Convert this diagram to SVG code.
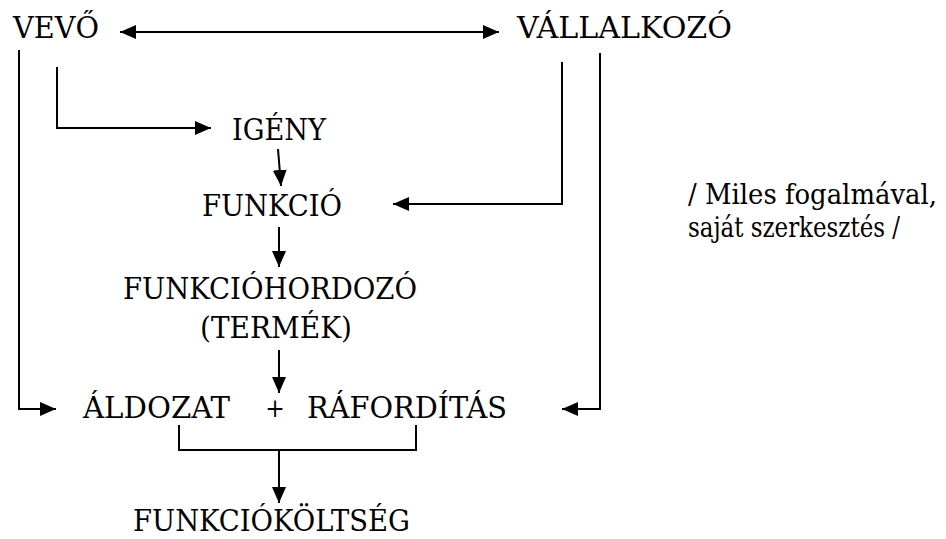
<svg xmlns="http://www.w3.org/2000/svg" width="946" height="539" viewBox="0 0 946 539">
<defs>
<style>
.c line,.c polyline{stroke:#000;stroke-width:2;fill:none}
</style>
<marker id="ah" viewBox="0 0 16 14" refX="16" refY="7" markerWidth="16" markerHeight="14" markerUnits="userSpaceOnUse" orient="auto-start-reverse">
<path d="M0,0 L16,7 L0,14 Z" fill="#000"/>
</marker>
</defs>
<rect width="946" height="539" fill="#fff"/>
<g font-family="'DejaVu Serif Condensed', 'DejaVu Serif', 'Liberation Serif', serif" font-size="30" fill="#000">
<g id="vevo"><text x="13" y="38" textLength="86" lengthAdjust="spacingAndGlyphs">VEVŐ</text></g>
<g id="vallalkozo"><text x="517" y="38" textLength="215" lengthAdjust="spacingAndGlyphs">VÁLLALKOZÓ</text></g>
<g id="igeny"><text x="232" y="140" textLength="94" lengthAdjust="spacingAndGlyphs">IGÉNY</text></g>
<g id="funkcio"><text x="202" y="216" textLength="140" lengthAdjust="spacingAndGlyphs">FUNKCIÓ</text></g>
<g id="funkciohordozo"><text x="123" y="299" textLength="294" lengthAdjust="spacingAndGlyphs">FUNKCIÓHORDOZÓ</text><text x="200" y="338" textLength="152" lengthAdjust="spacingAndGlyphs">(TERMÉK)</text></g>
<g id="aldozat"><text x="83" y="418" textLength="147" lengthAdjust="spacingAndGlyphs">ÁLDOZAT</text></g>
<g id="plus"><text x="275" y="417" text-anchor="middle" font-size="26">+</text></g>
<g id="raforditas"><text x="307" y="418" textLength="200" lengthAdjust="spacingAndGlyphs">RÁFORDÍTÁS</text></g>
<g id="funkcioktg"><text x="133" y="531" textLength="277" lengthAdjust="spacingAndGlyphs">FUNKCIÓKÖLTSÉG</text></g>
<g id="note" font-size="28"><text x="688" y="204" textLength="249" lengthAdjust="spacingAndGlyphs">/ Miles fogalmával,</text><text x="688" y="237" textLength="212" lengthAdjust="spacingAndGlyphs">saját szerkesztés /</text></g>
</g>
<g class="c" id="connectors">
<line x1="120" y1="32" x2="499" y2="32" marker-start="url(#ah)" marker-end="url(#ah)"/>
<polyline points="19,50 19,409 56,409" marker-end="url(#ah)"/>
<polyline points="57,67 57,128 211,128" marker-end="url(#ah)"/>
<line x1="278" y1="149" x2="281" y2="186" marker-end="url(#ah)"/>
<polyline points="562,62 562,204 393,204" marker-end="url(#ah)"/>
<line x1="279" y1="227" x2="279" y2="267" marker-end="url(#ah)"/>
<polyline points="600,53 600,409 562,409" marker-end="url(#ah)"/>
<line x1="279" y1="350" x2="279" y2="393" marker-end="url(#ah)"/>
<polyline points="179,425 179,450 416,450 416,425"/>
<line x1="279" y1="450" x2="279" y2="503" marker-end="url(#ah)"/>
</g>
</svg>
